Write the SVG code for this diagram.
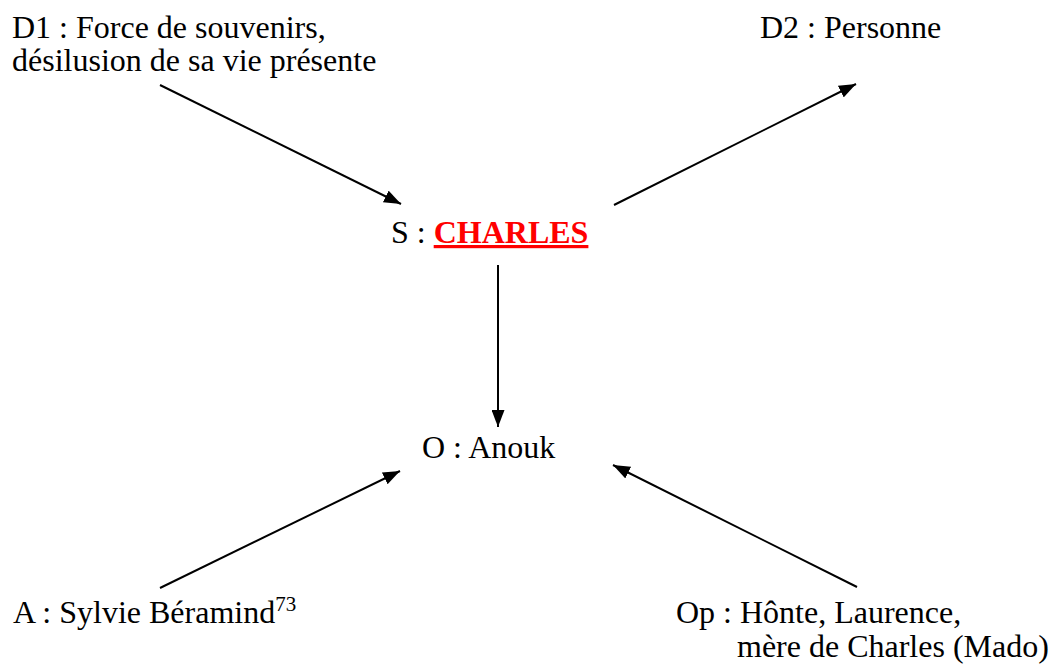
<svg xmlns="http://www.w3.org/2000/svg" width="1052" height="664" viewBox="0 0 1052 664">
  <style>
    .t { font-family: "Liberation Serif", "Times New Roman", serif; font-size: 32px; fill: #000; }
    .hero { fill: #ff0000; font-weight: bold; text-decoration: underline; }
    .edge { stroke: #000; stroke-width: 2; fill: none; marker-end: url(#arrow); }
  </style>
  <defs>
    <marker id="arrow" viewBox="0 0 10 10" refX="10" refY="5" markerWidth="17" markerHeight="13" markerUnits="userSpaceOnUse" orient="auto" preserveAspectRatio="none">
      <path d="M0,0 L10,5 L0,10 z" fill="#000"/>
    </marker>
  </defs>
  <rect width="1052" height="664" fill="#fff"/>

  <g id="connectors">
    <line class="edge" x1="160" y1="85" x2="401" y2="204"/>
    <line class="edge" x1="614" y1="205" x2="856" y2="84"/>
    <line class="edge" x1="498" y1="265" x2="498" y2="427"/>
    <line class="edge" x1="160" y1="588" x2="400" y2="471"/>
    <line class="edge" x1="857" y1="587" x2="613" y2="465"/>
  </g>

  <g id="d1">
    <text class="t" x="12" y="38">D1 : Force de souvenirs,</text>
    <text class="t" x="12" y="71">désilusion de sa vie présente</text>
  </g>
  <g id="d2">
    <text class="t" x="760" y="38">D2 : Personne</text>
  </g>
  <g id="s">
    <text class="t" x="391" y="243">S : <tspan class="hero">CHARLES</tspan></text>
  </g>
  <g id="o">
    <text class="t" x="422" y="458">O : Anouk</text>
  </g>
  <g id="a">
    <text class="t" x="13" y="623">A : Sylvie Béramind<tspan font-size="21" dy="-12">73</tspan></text>
  </g>
  <g id="op">
    <text class="t" x="676" y="623">Op : Hônte, Laurence,</text>
    <text class="t" x="737" y="657">mère de Charles (Mado)</text>
  </g>
</svg>
